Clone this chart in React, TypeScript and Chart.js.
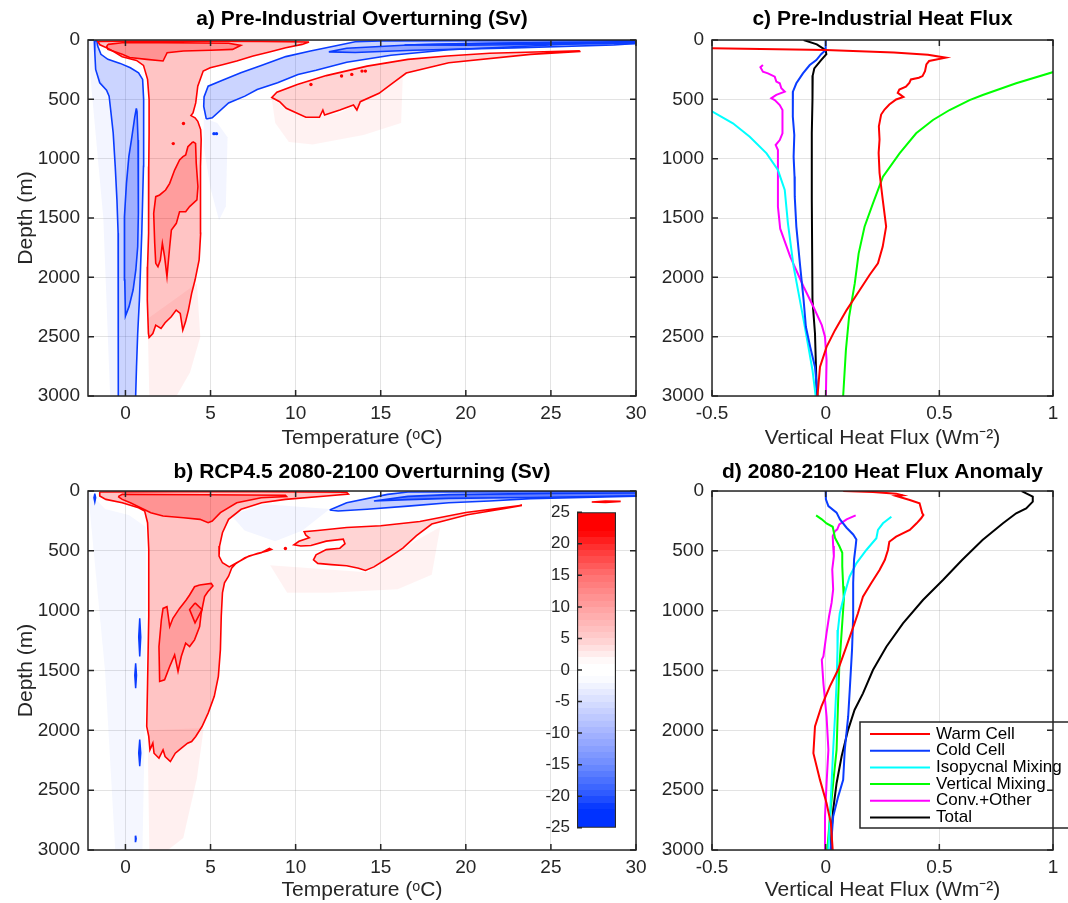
import React, { useEffect, useRef } from 'react';
import { Chart, registerables } from 'chart.js';

Chart.register(...registerables);

const FONT = '"Liberation Sans", Arial, Helvetica, sans-serif';
const INK = '#262626';
const GRID = 'rgba(38,38,38,0.13)';
const RED = '#ff0000';
const BLUE = '#0a3cff';

Chart.defaults.font.family = FONT;
Chart.defaults.color = INK;

type Pt = [number, number];

// ---------- tick labels ----------
const TEMP_TICKS = [0, 5, 10, 15, 20, 25, 30];
const DEPTH_TICKS = [0, 500, 1000, 1500, 2000, 2500, 3000];
const FLUX_TICKS = [-0.5, 0, 0.5, 1];
const CB_TICKS = [-25, -20, -15, -10, -5, 0, 5, 10, 15, 20, 25];

// ---------- legend series ----------
const SERIES_NAMES = ['Warm Cell', 'Cold Cell', 'Isopycnal Mixing', 'Vertical Mixing', 'Conv.+Other', 'Total'];
const SERIES_COLORS = ['#ff0000', '#0a3cff', '#00ffff', '#00ff00', '#ff00ff', '#000000'];

// ---------- panel c: pre-industrial heat flux [flux, depth] ----------
const C_WARM: Pt[] = [[-0.7, 64], [-0.5, 70], [0, 85], [0.3, 105], [0.45, 125], [0.528, 149], [0.455, 177], [0.443, 206], [0.437, 262], [0.426, 304], [0.41, 318], [0.375, 332], [0.368, 361], [0.353, 394], [0.324, 417], [0.317, 445], [0.342, 479], [0.31, 501], [0.28, 544], [0.259, 586], [0.244, 628], [0.234, 727], [0.237, 839], [0.233, 952], [0.237, 1121], [0.251, 1346], [0.266, 1572], [0.251, 1741], [0.23, 1882], [0.193, 1980], [0.15, 2107], [0.092, 2276], [0.041, 2445], [0.004, 2586], [-0.025, 2755], [-0.036, 3000]];
const C_COLD: Pt[] = [[0, 0], [0, 84], [-0.02, 120], [-0.041, 169], [-0.07, 211], [-0.1, 281], [-0.129, 365], [-0.144, 435], [-0.145, 500], [-0.144, 646], [-0.138, 800], [-0.141, 983], [-0.137, 1150], [-0.136, 1320], [-0.129, 1573], [-0.112, 1910], [-0.097, 2192], [-0.087, 2417], [-0.068, 2586], [-0.047, 2755], [-0.035, 3000]];
const C_ISO: Pt[] = [[-0.62, 520], [-0.51, 590], [-0.408, 702], [-0.334, 815], [-0.26, 955], [-0.21, 1096], [-0.18, 1264], [-0.166, 1545], [-0.141, 1910], [-0.119, 2135], [-0.097, 2361], [-0.076, 2586], [-0.058, 2783], [-0.044, 3000]];
const C_VERT: Pt[] = [[1.15, 225], [1.007, 267], [0.838, 365], [0.691, 463], [0.633, 506], [0.545, 590], [0.472, 674], [0.398, 786], [0.325, 955], [0.252, 1152], [0.208, 1376], [0.171, 1573], [0.145, 1800], [0.128, 2051], [0.103, 2332], [0.089, 2614], [0.077, 3000]];
const C_CONV: Pt[] = [[-0.276, 211], [-0.287, 230], [-0.276, 267], [-0.254, 281], [-0.224, 309], [-0.217, 351], [-0.202, 365], [-0.195, 407], [-0.18, 435], [-0.217, 463], [-0.239, 491], [-0.224, 506], [-0.202, 548], [-0.19, 590], [-0.19, 786], [-0.202, 843], [-0.22, 885], [-0.21, 927], [-0.21, 1096], [-0.21, 1405], [-0.2, 1590], [-0.156, 1825], [-0.097, 2079], [-0.054, 2248], [-0.017, 2403], [-0.003, 2501], [0.004, 2699], [0.001, 3000]];
const C_TOTAL: Pt[] = [[-0.097, 0], [-0.039, 37], [0, 85], [0.003, 120], [-0.02, 170], [-0.05, 240], [-0.057, 300], [-0.058, 501], [-0.061, 783], [-0.061, 1346], [-0.058, 2192], [-0.047, 2473], [-0.039, 3000]];

// ---------- panel d: 2080-2100 anomaly [flux, depth] ----------
const D_WARM: Pt[] = [[0.077, 0], [0.208, 8], [0.31, 22], [0.339, 36], [0.31, 42], [0.37, 75], [0.413, 103], [0.425, 186], [0.43, 200], [0.42, 228], [0.4, 270], [0.37, 326], [0.31, 382], [0.28, 424], [0.274, 493], [0.26, 577], [0.237, 660], [0.2, 771], [0.164, 883], [0.142, 1022], [0.127, 1106], [0.091, 1301], [0.054, 1496], [0.018, 1635], [-0.019, 1802], [-0.047, 1968], [-0.054, 2191], [-0.025, 2414], [0.004, 2610], [0.023, 2777], [0.031, 3000]];
const D_COLD: Pt[] = [[0, 0], [0.001, 70], [0.012, 126], [0.048, 181], [0.063, 237], [0.092, 307], [0.121, 363], [0.135, 405], [0.132, 460], [0.125, 572], [0.121, 768], [0.121, 1047], [0.116, 1326], [0.106, 1661], [0.099, 1884], [0.084, 2163], [0.077, 2414], [0.055, 2554], [0.033, 2721], [0.022, 3000]];
const D_ISO: Pt[] = [[0.289, 215], [0.252, 270], [0.23, 326], [0.223, 395], [0.179, 493], [0.135, 604], [0.105, 716], [0.084, 855], [0.062, 1022], [0.054, 1162], [0.052, 1326], [0.048, 1605], [0.041, 1884], [0.033, 2163], [0.026, 2442], [0.019, 2721], [0.012, 3000]];
const D_VERT: Pt[] = [[-0.042, 204], [-0.017, 237], [0.004, 271], [0.031, 299], [0.041, 391], [0.06, 460], [0.073, 516], [0.073, 628], [0.077, 795], [0.08, 907], [0.07, 1186], [0.06, 1465], [0.055, 1744], [0.048, 2163], [0.033, 2442], [0.019, 2721], [0.007, 3000]];
const D_CONV: Pt[] = [[0.132, 204], [0.092, 237], [0.06, 279], [0.051, 321], [0.041, 335], [0.031, 377], [0.033, 460], [0.036, 544], [0.029, 656], [0.033, 823], [0.026, 935], [0.015, 1047], [0.004, 1186], [-0.01, 1382], [-0.017, 1409], [-0.01, 1605], [0.004, 1884], [0.012, 2163], [0.004, 2442], [-0.003, 2721], [-0.003, 3000]];
const D_TOTAL: Pt[] = [[0.862, 0], [0.882, 19], [0.911, 47], [0.911, 89], [0.882, 145], [0.838, 186], [0.78, 270], [0.69, 410], [0.6, 577], [0.516, 744], [0.428, 911], [0.34, 1106], [0.267, 1301], [0.208, 1496], [0.164, 1691], [0.127, 1830], [0.098, 2000], [0.07, 2219], [0.048, 2442], [0.033, 2665], [0.026, 2833], [0.023, 3000]];

// ---------- panel a: pre-industrial overturning contours [temperature, depth] ----------
const A_WARM_OUTER: Pt[] = [[10.79, 17], [8, 12], [4, 10], [0, 10], [-1.63, 12], [-1.5, 40], [-0.91, 79], [-0.19, 141], [0.65, 172], [1.06, 214], [1.3, 332], [1.39, 501], [1.39, 783], [1.37, 1065], [1.37, 1346], [1.35, 1628], [1.3, 1910], [1.27, 1966], [1.3, 2192], [1.35, 2473], [1.39, 2507], [1.61, 2473], [1.78, 2403], [2.09, 2431], [2.33, 2383], [2.69, 2332], [2.98, 2276], [3.22, 2304], [3.37, 2445], [3.53, 2375], [3.7, 2276], [3.89, 2135], [4.09, 2023], [4.33, 1854], [4.42, 1628], [4.42, 1346], [4.4, 1065], [4.45, 839], [4.42, 755], [4.25, 685], [4.09, 656], [3.85, 637], [3.97, 614], [4.13, 530], [4.25, 389], [4.57, 262], [4.98, 234], [5.7, 208], [6.54, 177], [7.5, 135], [8.46, 101], [9.42, 65], [10.38, 37], [10.79, 17]];
const A_WARM_SURF: Pt[] = [[-1.03, 37], [-0.19, 23], [2, 22], [4.5, 25], [6.06, 28], [6.78, 45], [6.3, 79], [5, 86], [3.41, 93], [2.45, 107], [2.21, 177], [1.25, 163], [0.25, 147], [-0.19, 121], [-0.53, 104], [-1.03, 79], [-1.1, 55], [-1.03, 37]];
const A_WARM_DEEP: Pt[] = [[3.96, 857], [4.12, 871], [4.16, 1039], [4.26, 1236], [4.2, 1348], [3.77, 1404], [3.54, 1447], [3.18, 1447], [2.99, 1545], [2.7, 1601], [2.6, 1742], [2.44, 1994], [2.3, 1826], [2.17, 1713], [2.05, 1854], [1.91, 1910], [1.78, 1882], [1.72, 1713], [1.66, 1461], [1.78, 1320], [2.01, 1306], [2.36, 1264], [2.6, 1208], [2.89, 1096], [3.18, 1011], [3.38, 983], [3.54, 969], [3.67, 899], [3.87, 871], [3.96, 857]];
const A_WARM_TONGUE: Pt[] = [[26.7, 90], [21.4, 112], [18.9, 135], [16.6, 163], [14.2, 220], [11.8, 300], [10.1, 375], [8.9, 440], [8.6, 485], [9.06, 520], [9.45, 576], [10.6, 651], [11.4, 651], [11.6, 590], [11.7, 632], [12.6, 590], [13.4, 548], [13.6, 590], [13.8, 520], [14.9, 449], [15.7, 363], [16.5, 278], [19, 192], [23.8, 121], [26.7, 96], [26.7, 90]];
const A_COLD_OUTER: Pt[] = [[-1.83, 8], [-1.8, 107], [-1.75, 248], [-1.51, 361], [-1.11, 423], [-0.96, 473], [-0.87, 586], [-0.72, 783], [-0.6, 1065], [-0.5, 1346], [-0.43, 1628], [-0.41, 1910], [-0.41, 2473], [-0.43, 3000], [-0.43, 3060], [0.6, 3060], [0.6, 3000], [0.65, 2755], [0.72, 2473], [0.82, 2192], [0.89, 1910], [0.96, 1628], [1.01, 1346], [1.06, 1065], [1.08, 783], [1.06, 501], [1.01, 332], [0.77, 276], [0.29, 234], [-0.31, 197], [-1.03, 163], [-1.44, 121], [-1.63, 51], [-1.68, 8], [-1.83, 8]];
const A_COLD_INNER: Pt[] = [[0.64, 576], [0.68, 604], [0.74, 843], [0.76, 1180], [0.76, 1461], [0.72, 1742], [0.61, 1938], [0.45, 2107], [0.21, 2247], [0, 2326], [-0.04, 2022], [-0.08, 1742], [-0.04, 1489], [0.06, 1208], [0.2, 983], [0.35, 843], [0.55, 646], [0.64, 576]];
const A_COLD_UPPER: Pt[] = [[4.75, 665], [4.6, 560], [4.62, 480], [4.86, 389], [5.7, 340], [6.78, 276], [7.98, 215], [9.42, 140], [10.87, 93], [12.3, 51], [13.5, 15], [15, 8], [20, 6], [30.5, 6], [30.5, 15], [29.8, 16], [26.7, 30], [23.8, 51], [19, 82], [15.6, 128], [13, 187], [11.2, 255], [10.14, 290], [8.94, 361], [7.74, 417], [7.02, 473], [6.06, 530], [5.1, 656], [4.75, 665]];
const A_COLD_UPPER_IN1: Pt[] = [[11.95, 100], [13, 70], [16.9, 40], [22.8, 25], [29.8, 16], [30.5, 18], [30.5, 24], [28.7, 42], [22.8, 66], [16.9, 86], [13.5, 105], [11.95, 100]];
const A_COLD_UPPER_IN2: Pt[] = [[16.4, 42], [20, 30], [25, 22], [30.5, 18], [30.5, 28], [25, 36], [20, 44], [16.4, 42]];
const A_HALO_RED1: Pt[] = [[1.3, 2350], [4.2, 2050], [4.4, 2500], [3.8, 2800], [3.0, 3000], [1.4, 3000], [1.3, 2350]];
const A_HALO_RED2: Pt[] = [[8.6, 500], [10.6, 660], [12.5, 620], [14.5, 480], [16.3, 300], [16.2, 700], [14, 800], [11, 880], [9.6, 860], [8.8, 700], [8.6, 500]];
const A_HALO_BLUE1: Pt[] = [[4.6, 660], [5.4, 700], [6.0, 820], [5.9, 1400], [5.5, 1520], [5.0, 1250], [4.6, 900], [4.6, 660]];
const A_HALO_BLUE2: Pt[] = [[-2.2, 0], [-1.83, 8], [-1.75, 248], [-1.11, 423], [-0.72, 783], [-0.43, 1628], [-0.5, 3000], [-0.9, 3000], [-1.3, 1500], [-2.0, 400], [-2.2, 0]];
const A_RED_DOTS: Pt[] = [[12.7, 304], [13.3, 290], [13.9, 262], [14.1, 262], [10.9, 375], [3.41, 704], [2.81, 873]];
const A_BLUE_DOTS: Pt[] = [[5.2, 789], [5.35, 789]];

// ---------- panel b: RCP4.5 overturning contours [temperature, depth] ----------
const B_WARM_OUTER: Pt[] = [[-1.51, 8], [3, 6], [8, 6], [13, 10], [13.1, 25], [11.8, 42], [9.4, 70], [8, 98], [6.8, 153], [6.06, 237], [5.7, 349], [5.53, 460], [5.5, 544], [5.7, 600], [6.1, 634], [6.54, 600], [7.26, 544], [7.98, 516], [8.46, 480], [8.58, 488], [8.34, 502], [7.74, 522], [7.02, 558], [6.49, 606], [6.25, 642], [6.06, 712], [5.82, 768], [5.7, 851], [5.63, 1047], [5.58, 1326], [5.46, 1549], [5.22, 1716], [4.86, 1856], [4.5, 1968], [4.13, 2051], [3.89, 2093], [3.65, 2107], [3.29, 2149], [2.93, 2191], [2.64, 2261], [2.33, 2219], [2.21, 2163], [1.97, 2233], [1.68, 2191], [1.61, 2107], [1.44, 2163], [1.37, 2051], [1.25, 1968], [1.3, 1605], [1.37, 1047], [1.37, 488], [1.3, 265], [1.13, 167], [0.77, 140], [-0.19, 98], [-1.15, 70], [-1.51, 42], [-1.51, 8]];
const B_WARM_SURF: Pt[] = [[-0.43, 47], [-0.19, 28], [4.6, 31], [9.4, 36], [9.47, 47], [7.98, 56], [6.54, 98], [5.58, 181], [5.1, 251], [4.86, 265], [4.38, 237], [3.41, 223], [2.21, 209], [1.49, 181], [1.01, 148], [0.29, 98], [-0.19, 70], [-0.43, 47]];
const B_WARM_DEEP: Pt[] = [[4.36, 786], [5.04, 772], [5.14, 794], [4.84, 842], [4.65, 883], [4.45, 1022], [4.36, 1133], [4.06, 1244], [3.77, 1300], [3.54, 1272], [3.28, 1383], [3.09, 1508], [2.89, 1369], [2.6, 1467], [2.3, 1578], [2.01, 1592], [1.97, 1300], [2.11, 1078], [2.21, 981], [2.44, 967], [2.6, 1133], [2.79, 1064], [3.18, 981], [3.57, 911], [3.77, 869], [4.06, 800], [4.36, 786]];
const B_WARM_DIAMOND: Pt[] = [[4.09, 935], [4.5, 991], [4.09, 1102], [3.77, 991], [4.09, 935]];
const B_WARM_TONGUE: Pt[] = [[23.3, 120], [20, 180], [17.3, 255], [15, 290], [13, 305], [11.3, 330], [10.5, 340], [10.6, 369], [10.8, 390], [10.2, 420], [9.9, 450], [10.3, 460], [10.9, 455], [11.8, 419], [12.8, 402], [12.9, 440], [12.6, 478], [11.8, 490], [11.2, 533], [11.05, 575], [11.3, 605], [12.1, 615], [13, 625], [13.7, 645], [14.1, 664], [14.6, 634], [15.5, 554], [16.3, 477], [17.1, 373], [18.0, 276], [20.1, 199], [22.3, 146], [23.3, 120]];
const B_RED_SMALL: Pt[] = [[27.4, 92], [28.2, 84], [29.1, 87], [28.2, 95], [27.4, 92]];
const B_COLD_UPPER: Pt[] = [[12, 159], [13, 98], [15.4, 28], [16.6, 8], [25, 6], [30.5, 6], [30.5, 42], [23.8, 64], [21.4, 84], [19, 98], [16.6, 126], [14.2, 153], [12.5, 167], [12, 159]];
const B_COLD_UPPER_IN: Pt[] = [[14.6, 84], [16.6, 45], [19, 30], [25, 20], [30.5, 16], [30.5, 38], [23.8, 54], [19, 62], [16.6, 72], [14.6, 84]];
const B_COLD_DASH1: Pt[] = [[0.84, 1064], [0.9, 1220], [0.84, 1383], [0.78, 1220], [0.84, 1064]];
const B_COLD_DASH2: Pt[] = [[0.6, 1439], [0.65, 1540], [0.6, 1647], [0.55, 1540], [0.6, 1439]];
const B_COLD_DASH3: Pt[] = [[0.84, 2078], [0.9, 2190], [0.84, 2300], [0.78, 2190], [0.84, 2078]];
const B_COLD_DASH4: Pt[] = [[-1.8, 22], [-1.75, 57], [-1.8, 92], [-1.85, 57], [-1.8, 22]];
const B_COLD_DASH5: Pt[] = [[0.6, 2880], [0.63, 2905], [0.6, 2930], [0.57, 2905], [0.6, 2880]];
const B_HALO_BLUE: Pt[] = [[-2.2, 0], [-1.2, 150], [0.2, 200], [1.2, 300], [1.2, 1500], [1.0, 3000], [-0.6, 3000], [-1.2, 1500], [-2.0, 300], [-2.2, 0]];
const B_HALO_BLUE2: Pt[] = [[6.2, 200], [8.2, 110], [12, 150], [10.4, 330], [8.8, 420], [7.0, 330], [6.2, 200]];
const B_HALO_RED1: Pt[] = [[1.3, 2000], [4.6, 1980], [4.2, 2400], [3.4, 2900], [2.5, 3000], [1.4, 3000], [1.3, 2000]];
const B_HALO_RED2: Pt[] = [[8.5, 620], [14.2, 680], [17, 420], [18.5, 300], [18, 700], [16, 820], [12, 850], [9.5, 850], [8.5, 620]];
const B_RED_DOTS: Pt[] = [[9.4, 480]];

// ---------- colormap stops (value -> rgb) ----------
const CMAP: [number, number, number, number][] = [
  [-25, 0, 50, 255], [-22, 0, 50, 255], [-20, 40, 85, 255], [-15, 110, 140, 255], [-10, 165, 180, 255], [-5, 215, 222, 255],
  [-1, 255, 255, 255], [1, 255, 255, 255], [5, 255, 205, 205], [10, 255, 160, 160], [15, 255, 112, 112], [20, 255, 40, 40], [22, 255, 0, 0], [25, 255, 0, 0],
];

const toXY = (p: Pt[]) => p.map(([x, y]) => ({ x, y }));

function lineSet(label: string, pts: Pt[], color: string) {
  return { label, data: toXY(pts), showLine: true, fill: false, borderColor: color, backgroundColor: color, borderWidth: 2, pointRadius: 0, pointHoverRadius: 0, tension: 0, clip: 0 };
}
function area(pts: Pt[], line: string | null, fillColor: string, width = 1.6) {
  return {
    data: toXY(pts), showLine: true, fill: 'shape', backgroundColor: fillColor,
    borderColor: line || 'rgba(0,0,0,0)', borderWidth: line ? width : 0.01,
    pointRadius: 0, pointHoverRadius: 0, tension: 0, clip: 0,
  };
}
function dots(pts: Pt[], color: string, r = 1.7) {
  return { data: toXY(pts), showLine: false, fill: false, pointRadius: r, pointBackgroundColor: color, pointBorderWidth: 0, clip: 0 };
}

const rA = (a: number) => `rgba(255,0,0,${a})`;
const bA = (a: number) => `rgba(20,60,255,${a})`;

const frame = {
  id: 'frame',
  afterDatasetsDraw(chart: any) {
    const { ctx, chartArea: a, scales } = chart;
    const x = scales.x, y = scales.y;
    ctx.save();
    ctx.strokeStyle = INK;
    ctx.lineWidth = 1.5;
    ctx.beginPath();
    for (const t of x.ticks) {
      const p = x.getPixelForValue(t.value);
      ctx.moveTo(p, a.bottom); ctx.lineTo(p, a.bottom - 6);
      ctx.moveTo(p, a.top); ctx.lineTo(p, a.top + 6);
    }
    for (const t of y.ticks) {
      const p = y.getPixelForValue(t.value);
      ctx.moveTo(a.left, p); ctx.lineTo(a.left + 6, p);
      ctx.moveTo(a.right, p); ctx.lineTo(a.right - 6, p);
    }
    ctx.stroke();
    ctx.strokeRect(a.left, a.top, a.right - a.left, a.bottom - a.top);
    ctx.restore();
  },
};

const legendBox = {
  id: 'legendBox',
  afterDatasetsDraw(chart: any) {
    const { ctx, chartArea: a } = chart;
    const x0 = a.right - 193, y0 = a.bottom - 128, w = 215, h = 106;
    ctx.save();
    ctx.fillStyle = '#ffffff';
    ctx.fillRect(x0, y0, w, h);
    ctx.strokeStyle = INK;
    ctx.lineWidth = 1.5;
    ctx.strokeRect(x0, y0, w, h);
    ctx.font = `17px ${FONT}`;
    ctx.textBaseline = 'middle';
    chart.data.datasets.forEach((ds: any, i: number) => {
      const yy = y0 + 12 + i * 16.7;
      ctx.strokeStyle = ds.borderColor;
      ctx.lineWidth = 2;
      ctx.beginPath(); ctx.moveTo(x0 + 10, yy); ctx.lineTo(x0 + 70, yy); ctx.stroke();
      ctx.fillStyle = '#000';
      ctx.fillText(ds.label, x0 + 76, yy);
    });
    ctx.restore();
  },
};

const cbTicks = {
  id: 'cbTicks',
  afterDatasetsDraw(chart: any) {
    const { ctx, chartArea: a, scales } = chart;
    ctx.save();
    ctx.strokeStyle = INK;
    ctx.lineWidth = 1.5;
    ctx.beginPath();
    for (const t of scales.y.ticks) {
      const p = scales.y.getPixelForValue(t.value);
      ctx.moveTo(a.left, p); ctx.lineTo(a.left + 5, p);
    }
    ctx.stroke();
    ctx.restore();
  },
};

function depthAxis(width: number, withTitle: boolean) {
  return {
    type: 'linear', position: 'left', min: 0, max: 3000, reverse: true,
    afterBuildTicks: (s: any) => { s.ticks = DEPTH_TICKS.map((v) => ({ value: v })); },
    afterFit: (s: any) => { s.width = width; },
    grid: { color: GRID, lineWidth: 1, drawTicks: false },
    border: { display: false },
    ticks: { font: { size: 19 }, color: INK, padding: 8, autoSkip: false, callback: (v: any) => String(v) },
    title: { display: withTitle, text: 'Depth (m)', font: { size: 21 }, color: INK, padding: { top: 14, bottom: 0 } },
  };
}
function bottomAxis(min: number, max: number, ticks: number[], height: number, label: string, padBottom: number) {
  return {
    type: 'linear', position: 'bottom', min, max,
    afterBuildTicks: (s: any) => { s.ticks = ticks.map((v) => ({ value: v })); },
    afterFit: (s: any) => { s.height = height; },
    grid: { color: GRID, lineWidth: 1, drawTicks: false },
    border: { display: false },
    ticks: { font: { size: 19 }, color: INK, padding: 6, autoSkip: false, maxRotation: 0, callback: (v: any) => String(v) },
    title: { display: true, text: label, font: { size: 21 }, color: INK, padding: { top: 0, bottom: padBottom } },
  };
}

function baseOptions(title: string, titlePad: { top: number; bottom: number }, padRight: number, scales: any) {
  return {
    responsive: false, animation: false, events: [],
    layout: { padding: { left: 0, top: 0, right: padRight, bottom: 0 } },
    plugins: {
      legend: { display: false }, tooltip: { enabled: false },
      title: { display: true, text: title, color: '#000', font: { size: 21, weight: 'bold' }, padding: titlePad, fullSize: false },
    },
    scales,
  };
}

const TEMP_LABEL = 'Temperature (ᵒC)';
const FLUX_LABEL = 'Vertical Heat Flux (Wm⁻²)';

function makeA() {
  const sets = [
    area(A_HALO_BLUE2, null, bA(0.05)),
    area(A_HALO_RED1, null, rA(0.06)),
    area(A_HALO_RED2, null, rA(0.05)),
    area(A_HALO_BLUE1, null, bA(0.05)),
    area(A_COLD_OUTER, BLUE, bA(0.22)),
    area(A_COLD_UPPER, BLUE, bA(0.22)),
    area(A_WARM_OUTER, RED, rA(0.23)),
    area(A_WARM_TONGUE, RED, rA(0.17)),
    area(A_COLD_INNER, BLUE, bA(0.24)),
    area(A_COLD_UPPER_IN1, BLUE, bA(0.3)),
    area(A_COLD_UPPER_IN2, BLUE, bA(0.45)),
    area(A_WARM_SURF, RED, rA(0.25)),
    area(A_WARM_DEEP, RED, rA(0.2)),
    dots(A_RED_DOTS, RED),
    dots(A_BLUE_DOTS, BLUE),
  ].reverse();
  return {
    type: 'scatter',
    data: { datasets: sets },
    options: baseOptions('a) Pre-Industrial Overturning (Sv)', { top: 7, bottom: 7.8 }, 24, {
      x: bottomAxis(-2.2, 30, TEMP_TICKS, 56, TEMP_LABEL, 1.4),
      y: depthAxis(88, true),
    }),
    plugins: [frame],
  };
}

function makeB() {
  const sets = [
    area(B_HALO_BLUE, null, bA(0.045)),
    area(B_HALO_BLUE2, null, bA(0.05)),
    area(B_HALO_RED1, null, rA(0.06)),
    area(B_HALO_RED2, null, rA(0.05)),
    area(B_WARM_OUTER, RED, rA(0.23)),
    area(B_WARM_TONGUE, RED, rA(0.17)),
    area(B_COLD_UPPER, BLUE, bA(0.24)),
    area(B_COLD_UPPER_IN, BLUE, bA(0.55)),
    area(B_WARM_SURF, RED, rA(0.25)),
    area(B_WARM_DEEP, RED, rA(0.2)),
    area(B_WARM_DIAMOND, RED, rA(0.1)),
    area(B_RED_SMALL, RED, rA(0.5)),
    area(B_COLD_DASH1, BLUE, BLUE, 1.5),
    area(B_COLD_DASH2, BLUE, BLUE, 1.5),
    area(B_COLD_DASH3, BLUE, BLUE, 1.5),
    area(B_COLD_DASH4, BLUE, BLUE, 1.5),
    area(B_COLD_DASH5, BLUE, BLUE, 1.5),
    dots(B_RED_DOTS, RED),
  ].reverse();
  return {
    type: 'scatter',
    data: { datasets: sets },
    options: baseOptions('b) RCP4.5 2080-2100 Overturning (Sv)', { top: 7.4, bottom: 6.4 }, 24, {
      x: bottomAxis(-2.2, 30, TEMP_TICKS, 53, TEMP_LABEL, 0),
      y: depthAxis(88, true),
    }),
    plugins: [frame],
  };
}

function makeFlux(title: string, series: Pt[][], titlePad: { top: number; bottom: number }, xHeight: number, padBottom: number, withLegend: boolean) {
  return {
    type: 'scatter',
    data: { datasets: series.map((s, i) => lineSet(SERIES_NAMES[i], s, SERIES_COLORS[i])) },
    options: baseOptions(title, titlePad, 15, {
      x: bottomAxis(-0.5, 1, FLUX_TICKS, xHeight, FLUX_LABEL, padBottom),
      y: depthAxis(52, false),
    }),
    plugins: withLegend ? [legendBox, frame] : [frame],
  };
}

function cmapColor(v: number) {
  for (let i = 0; i < CMAP.length - 1; i++) {
    const a = CMAP[i], b = CMAP[i + 1];
    if (v >= a[0] && v <= b[0]) {
      const t = (v - a[0]) / (b[0] - a[0]);
      const c = [1, 2, 3].map((k) => Math.round(a[k] + (b[k] - a[k]) * t));
      return `rgb(${c[0]},${c[1]},${c[2]})`;
    }
  }
  return '#ffffff';
}

function cbGradient(chart: any) {
  if (!chart.chartArea) return '#ffffff';
  const y = chart.scales.y;
  const y0 = y.getPixelForValue(-25), y1 = y.getPixelForValue(25);
  const g = chart.ctx.createLinearGradient(0, y0, 0, y1);
  const n = 50;
  for (let i = 0; i < n; i++) {
    const v = -25 + (i + 0.5) * (50 / n);
    const col = cmapColor(v);
    g.addColorStop(i / n, col);
    g.addColorStop(Math.min(1, (i + 1) / n - 0.0001), col);
  }
  return g;
}

function makeColorbar() {
  return {
    type: 'bar',
    data: {
      labels: [''],
      datasets: [{
        data: [[-25, 25]], backgroundColor: (c: any) => cbGradient(c.chart),
        borderColor: INK, borderWidth: 1.5, borderSkipped: false, barPercentage: 1, categoryPercentage: 1,
      }],
    },
    options: {
      responsive: false, animation: false, events: [],
      layout: { padding: { top: 16, right: 14, bottom: 14, left: 0 } },
      plugins: { legend: { display: false }, tooltip: { enabled: false }, title: { display: false } },
      scales: {
        x: { display: false },
        y: {
          min: -25, max: 25,
          afterBuildTicks: (s: any) => { s.ticks = CB_TICKS.map((v) => ({ value: v })); },
          afterFit: (s: any) => { s.width = 57; },
          grid: { display: false, drawTicks: false },
          border: { display: false },
          ticks: { font: { size: 17 }, color: INK, padding: 7, autoSkip: false, callback: (v: any) => String(v) },
        },
      },
    },
    plugins: [cbTicks],
  };
}

function ChartBox({ x, y, w, h, make }: { x: number; y: number; w: number; h: number; make: () => any }) {
  const ref = useRef<HTMLCanvasElement>(null);
  useEffect(() => {
    const chart = new Chart(ref.current as HTMLCanvasElement, make());
    return () => chart.destroy();
  }, []);
  return <canvas ref={ref} width={w} height={h} style={{ position: 'absolute', left: x, top: y, width: w, height: h }} />;
}

export default function App() {
  return (
    <div style={{ position: 'absolute', left: 0, top: 0, width: 1068, height: 903, background: '#ffffff', overflow: 'hidden' }}>
      <ChartBox x={0} y={0} w={660} h={452} make={makeA} />
      <ChartBox x={660} y={0} w={408} h={452} make={() => makeFlux('c) Pre-Industrial Heat Flux', [C_WARM, C_COLD, C_ISO, C_VERT, C_CONV, C_TOTAL], { top: 7, bottom: 7.8 }, 56, 1.4, false)} />
      <ChartBox x={0} y={452} w={660} h={451} make={makeB} />
      <ChartBox x={660} y={452} w={408} h={451} make={() => makeFlux('d) 2080-2100 Heat Flux Anomaly', [D_WARM, D_COLD, D_ISO, D_VERT, D_CONV, D_TOTAL], { top: 7.4, bottom: 6.4 }, 53, 0, true)} />
      <ChartBox x={520} y={495} w={110} h={350} make={makeColorbar} />
    </div>
  );
}
